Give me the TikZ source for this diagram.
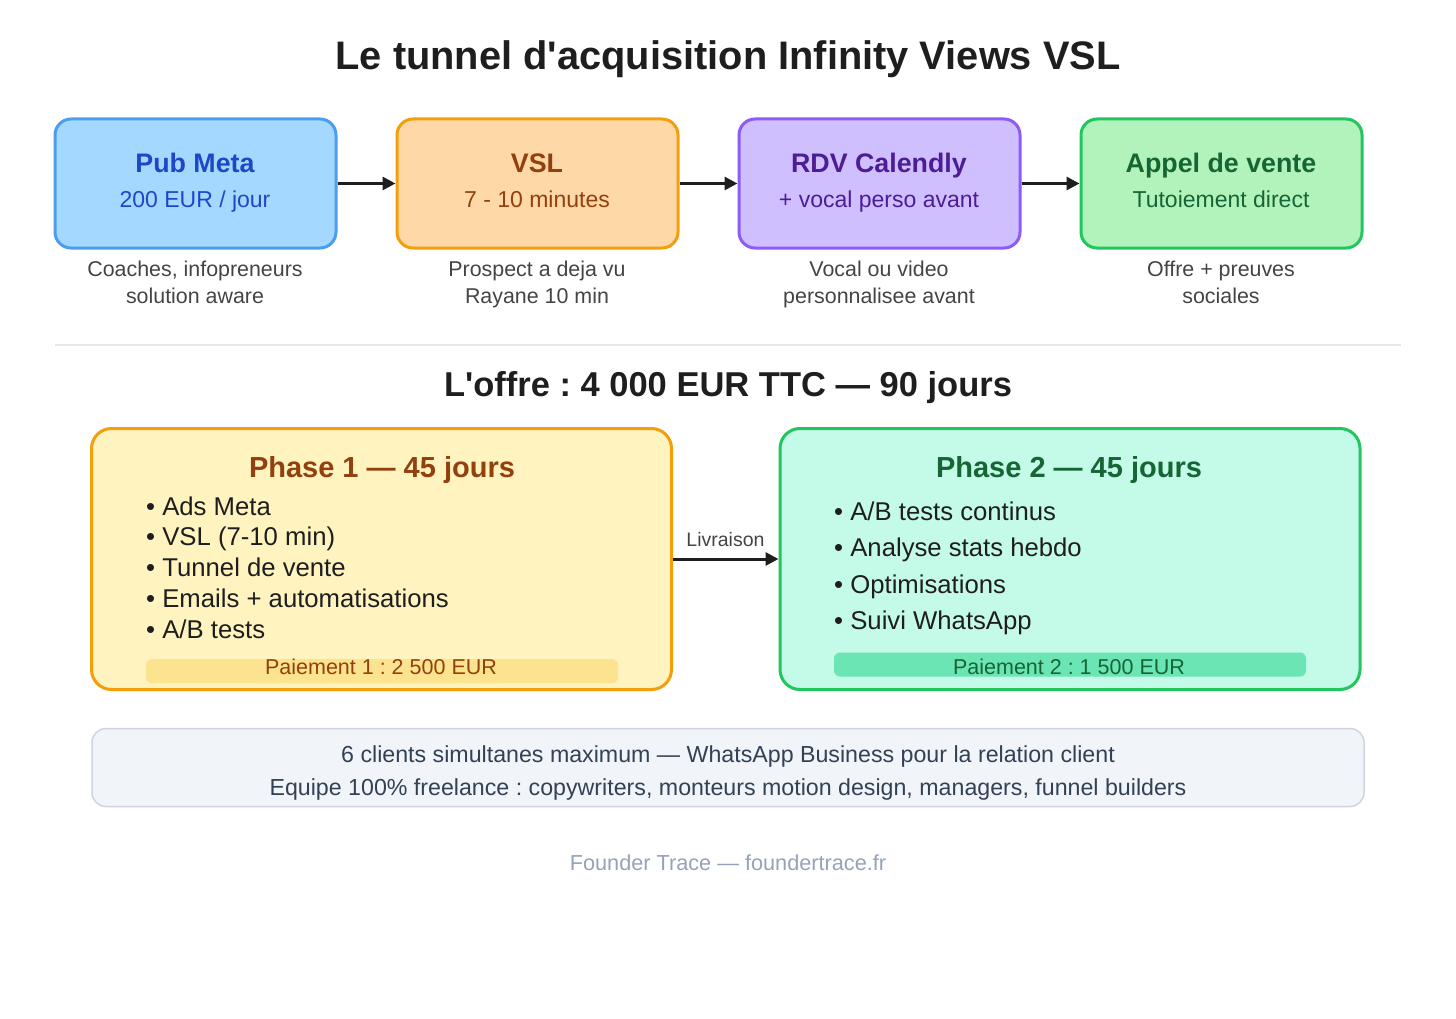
\documentclass[tikz,border=0pt]{standalone}
\usepackage{fontspec}
\usepackage{tikz}
\usetikzlibrary{arrows.meta}

\newfontfamily\lsans{Liberation Sans}
\newcommand{\fsize}[1]{\lsans\fontsize{#1pt}{#1pt}\selectfont}

\definecolor{ink}{HTML}{1E1E1E}
\definecolor{notegray}{HTML}{444444}
\definecolor{metafill}{HTML}{A5D8FF}
\definecolor{metaline}{HTML}{4A9EED}
\definecolor{metatext}{HTML}{1D47C9}
\definecolor{vslfill}{HTML}{FFD8A8}
\definecolor{vslline}{HTML}{F59E0B}
\definecolor{vsltext}{HTML}{92400E}
\definecolor{rdvfill}{HTML}{D0BFFF}
\definecolor{rdvline}{HTML}{8B5CF6}
\definecolor{rdvtext}{HTML}{4C1D95}
\definecolor{callfill}{HTML}{B2F2BB}
\definecolor{callline}{HTML}{22C55E}
\definecolor{calltext}{HTML}{166534}
\definecolor{onefill}{HTML}{FFF3BF}
\definecolor{onebar}{HTML}{FCE38F}
\definecolor{twofill}{HTML}{C3FAE8}
\definecolor{twobar}{HTML}{6CE5B4}
\definecolor{infofill}{HTML}{F1F5F9}
\definecolor{infoline}{HTML}{CBD5E1}
\definecolor{infotext}{HTML}{334155}
\definecolor{footgray}{HTML}{94A3B8}
\definecolor{rulegray}{HTML}{E5E7EB}

\tikzset{
  stage/.style={draw, line width=3pt, rounded corners=16pt, minimum width=281pt, minimum height=129pt, inner sep=0pt},
  stagehead/.style={anchor=base, font=\bfseries\fsize{26.8}},
  stagesub/.style={anchor=base, font=\fsize{23}},
  note/.style={anchor=base, font=\fsize{21.4}, text=notegray},
  flow/.style={draw=ink, line width=3pt, -{Triangle[length=13pt,width=13pt]}},
  phase/.style={draw, line width=3pt, rounded corners=20pt, minimum width=580pt, minimum height=261pt, inner sep=0pt},
  phasehead/.style={anchor=base, font=\bfseries\fsize{29}},
  item/.style={anchor=base west, font=\fsize{25.7}, text=ink, inner sep=0pt},
  paybar/.style={rounded corners=6pt, minimum width=472pt, minimum height=24pt, inner sep=0pt},
  paytext/.style={anchor=base, font=\fsize{21.5}},
  infoline/.style={anchor=base, font=\fsize{23.2}, text=infotext}
}

\begin{document}
\frenchspacing
\begin{tikzpicture}[x=1pt,y=-1pt]
	\useasboundingbox (0,0) rectangle (1456,1019);
	% title
	\node[anchor=base, font=\bfseries\fsize{39.8}, text=ink] (title) at (728,69.5) {Le tunnel d'acquisition Infinity Views VSL};

	% funnel stages
	\node[stage, fill=metafill, draw=metaline] (meta) at (195.5,183.5) {};
	\node[stagehead, text=metatext] (metahead) at (195,173) {Pub Meta};
	\node[stagesub, text=metatext] (metasub) at (195,207.5) {200 EUR / jour};
	\node[note] (metanotea) at (195,276.5) {Coaches, infopreneurs};
	\node[note] (metanoteb) at (195,303.5) {solution aware};

	\node[stage, fill=vslfill, draw=vslline] (vsl) at (537.5,183.5) {};
	\node[stagehead, text=vsltext] (vslhead) at (537,173) {VSL};
	\node[stagesub, text=vsltext] (vslsub) at (537,207.5) {7 - 10 minutes};
	\node[note] (vslnotea) at (537,276.5) {Prospect a deja vu};
	\node[note] (vslnoteb) at (537,303.5) {Rayane 10 min};

	\node[stage, fill=rdvfill, draw=rdvline] (rdv) at (879.5,183.5) {};
	\node[stagehead, text=rdvtext] (rdvhead) at (879,173) {RDV Calendly};
	\node[stagesub, text=rdvtext] (rdvsub) at (879,207.5) {+ vocal perso avant};
	\node[note] (rdvnotea) at (879,276.5) {Vocal ou video};
	\node[note] (rdvnoteb) at (879,303.5) {personnalisee avant};

	\node[stage, fill=callfill, draw=callline] (call) at (1221.5,183.5) {};
	\node[stagehead, text=calltext] (callhead) at (1221,173) {Appel de vente};
	\node[stagesub, text=calltext] (callsub) at (1221,207.5) {Tutoiement direct};
	\node[note] (callnotea) at (1221,276.5) {Offre + preuves};
	\node[note] (callnoteb) at (1221,303.5) {sociales};

	\draw[flow] (meta) -- (vsl);
	\draw[flow] (vsl) -- (rdv);
	\draw[flow] (rdv) -- (call);

	% separator
	\draw[rulegray, line width=2pt] (55,345) -- (1401,345);

	% offer
	\node[anchor=base, font=\bfseries\fsize{34.5}, text=ink] (offer) at (728,396) {L'offre : 4 000 EUR TTC — 90 jours};

	\node[phase, fill=onefill, draw=vslline] (phaseone) at (381.5,559) {};
	\node[phasehead, text=vsltext] (onehead) at (382,477) {Phase 1 — 45 jours};
	\node[item] (onea) at (146,515) {• Ads Meta};
	\node[item] (oneb) at (146,545.8) {• VSL (7-10 min)};
	\node[item] (onec) at (146,576.5) {• Tunnel de vente};
	\node[item] (oned) at (146,607.2) {• Emails + automatisations};
	\node[item] (onee) at (146,638) {• A/B tests};
	\node[paybar, fill=onebar] (onebar) at (382,671) {};
	\node[paytext, text=vsltext] (onepay) at (381,674) {Paiement 1 : 2 500 EUR};

	\node[phase, fill=twofill, draw=callline] (phasetwo) at (1070,559) {};
	\node[phasehead, text=calltext] (twohead) at (1069,477) {Phase 2 — 45 jours};
	\node[item] (twoa) at (834,520) {• A/B tests continus};
	\node[item] (twob) at (834,556.5) {• Analyse stats hebdo};
	\node[item] (twoc) at (834,593) {• Optimisations};
	\node[item] (twod) at (834,629.5) {• Suivi WhatsApp};
	\node[paybar, fill=twobar] (twobar) at (1070,664.5) {};
	\node[paytext, text=calltext] (twopay) at (1069,674) {Paiement 2 : 1 500 EUR};

	\draw[flow] (phaseone) -- (phasetwo);
	\node[anchor=base, font=\fsize{19.5}, text=notegray] (handover) at (725.5,546) {Livraison};

	% constraints
	\node[draw=infoline, fill=infofill, line width=1.5pt, rounded corners=14pt, minimum width=1272pt, minimum height=78pt] (info) at (728,767.5) {};
	\node[infoline] (infoa) at (728,762.7) {6 clients simultanes maximum — WhatsApp Business pour la relation client};
	\node[infoline] (infob) at (728,795.5) {Equipe 100\% freelance : copywriters, monteurs motion design, managers, funnel builders};

	% footer
	\node[anchor=base, font=\fsize{21.7}, text=footgray] (footer) at (728,870) {Founder Trace — foundertrace.fr};
\end{tikzpicture}
\end{document}
